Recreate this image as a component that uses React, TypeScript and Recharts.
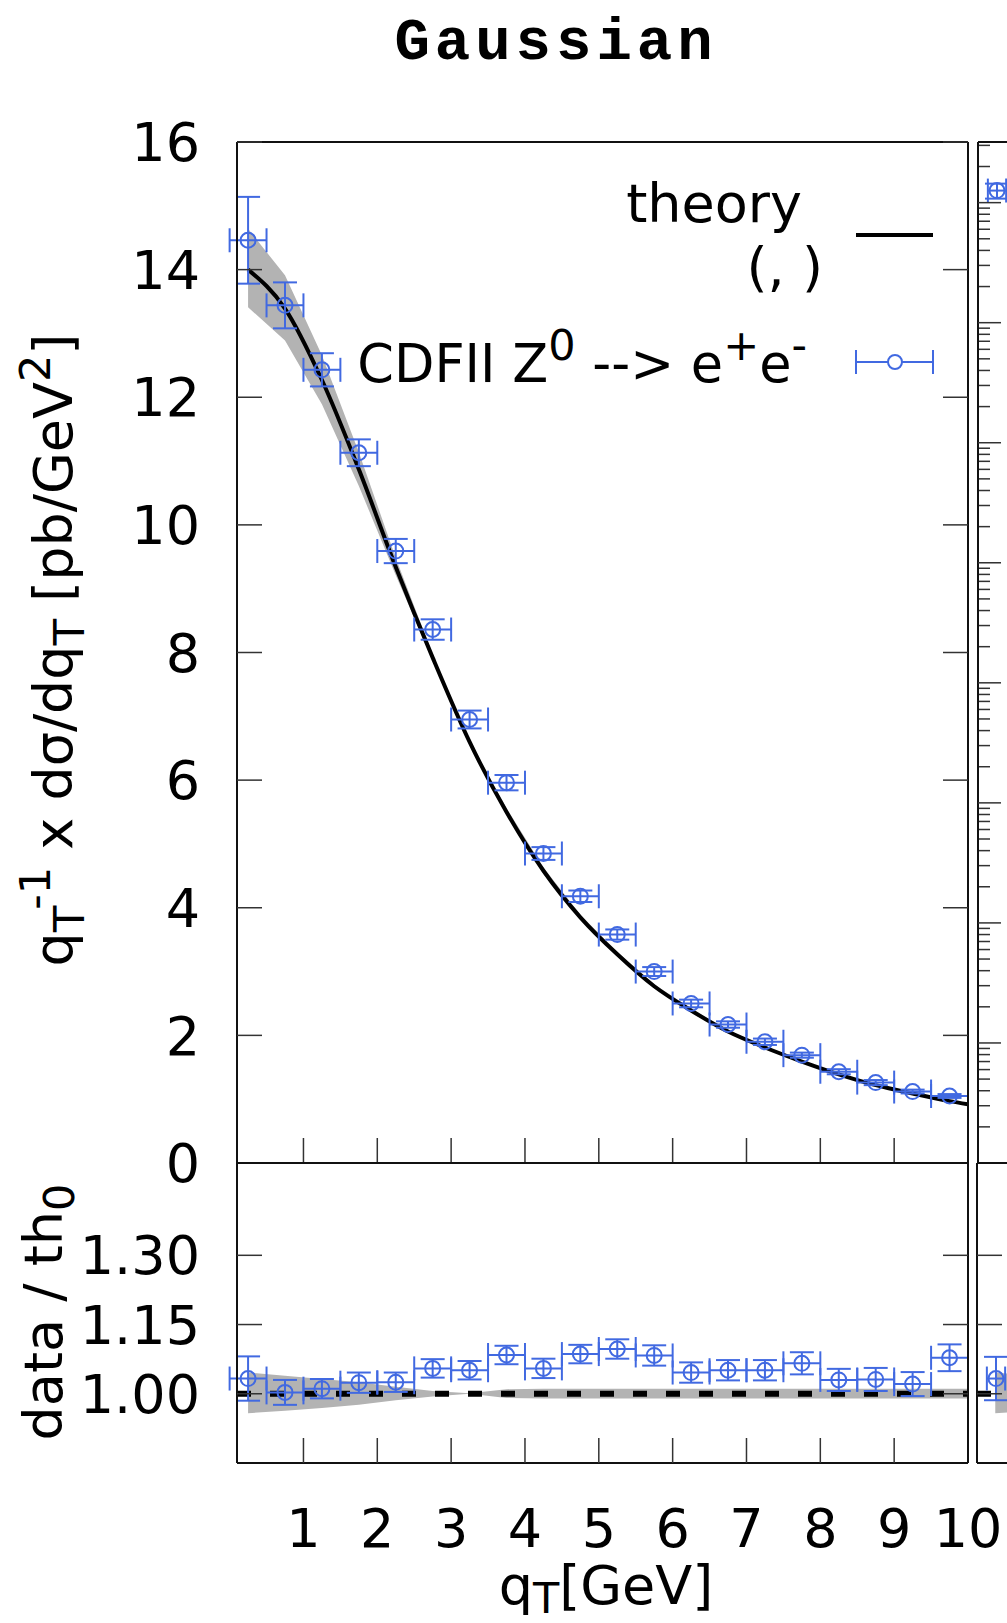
import React from "react";
import {
  Area,
  ComposedChart,
  ErrorBar,
  Line,
  ReferenceLine,
  Scatter,
  XAxis,
  YAxis,
} from "recharts";

const BLUE = "#4169e1";
const BAND = "#b3b3b3";
const FONT = "'DejaVu Sans', sans-serif";

// CDF II Z0 -> e+e-, qT bins [GeV]
const binCenters = [
  0.25, 0.75, 1.25, 1.75, 2.25, 2.75, 3.25, 3.75, 4.25, 4.75, 5.25, 5.75, 6.25,
  6.75, 7.25, 7.75, 8.25, 8.75, 9.25, 9.75,
];
const binHalfWidths = [
  0.25, 0.25, 0.25, 0.25, 0.25, 0.25, 0.25, 0.25, 0.25, 0.25, 0.25, 0.25, 0.25,
  0.25, 0.25, 0.25, 0.25, 0.25, 0.25, 0.25,
];
const cdfValues = [
  14.46, 13.44, 12.43, 11.13, 9.59, 8.36, 6.95, 5.96, 4.85, 4.18, 3.58, 3.0,
  2.5, 2.17, 1.9, 1.69, 1.43, 1.26, 1.12, 1.05,
];
const cdfErrors = [
  0.68, 0.36, 0.26, 0.21, 0.19, 0.16, 0.14, 0.12, 0.1, 0.09, 0.08, 0.07, 0.06,
  0.05, 0.05, 0.04, 0.04, 0.04, 0.03, 0.03,
];
const ratioValues = [
  1.033, 1.003, 1.011, 1.024, 1.025, 1.055, 1.051, 1.084, 1.055, 1.086, 1.097,
  1.083, 1.046, 1.051, 1.051, 1.066, 1.03, 1.031, 1.021, 1.078,
];
const ratioErrors = [
  0.048, 0.027, 0.021, 0.022, 0.021, 0.02, 0.02, 0.02, 0.021, 0.02, 0.021,
  0.022, 0.022, 0.022, 0.022, 0.024, 0.024, 0.025, 0.026, 0.029,
];

// theory curve and its uncertainty band
const theoryX = [
  0.25, 0.75, 1.25, 1.75, 2.25, 2.75, 3.25, 3.75, 4.25, 4.75, 5.25, 5.75, 6.25,
  6.75, 7.25, 7.75, 8.25, 8.75, 9.25, 9.75, 10,
];
const theoryValues = [
  14.0, 13.39, 12.27, 10.87, 9.34, 7.92, 6.6, 5.5, 4.58, 3.85, 3.27, 2.77, 2.39,
  2.06, 1.81, 1.59, 1.39, 1.22, 1.09, 0.97, 0.92,
];
const theoryLow = [
  13.41, 12.89, 11.89, 10.61, 9.21, 7.87, 6.6, 5.45, 4.53, 3.81, 3.24, 2.74,
  2.37, 2.04, 1.79, 1.57, 1.38, 1.21, 1.08, 0.96, 0.91,
];
const theoryHigh = [
  14.64, 13.91, 12.66, 11.14, 9.48, 7.97, 6.61, 5.56, 4.63, 3.89, 3.31, 2.8,
  2.42, 2.08, 1.83, 1.61, 1.41, 1.23, 1.1, 0.98, 0.93,
];
const ratioBandLow = [
  0.958, 0.963, 0.969, 0.976, 0.986, 0.994, 1.0, 0.991, 0.99, 0.99, 0.99, 0.99,
  0.99, 0.99, 0.99, 0.99, 0.99, 0.99, 0.99, 0.99, 0.99,
];
const ratioBandHigh = [
  1.046, 1.039, 1.032, 1.025, 1.015, 1.006, 1.001, 1.01, 1.011, 1.011, 1.011,
  1.011, 1.011, 1.011, 1.011, 1.011, 1.011, 1.011, 1.011, 1.011, 1.011,
];

// neighbouring panel (cut off at the right edge)
const sideX = [0.26];
const sideHalfWidths = [0.125];
const sideValues = [126];
const sideErrors = [18];
const sideRatios = [1.033];
const sideRatioErrors = [0.047];

const xTicks = [1, 2, 3, 4, 5, 6, 7, 8, 9, 10];
const mainYTicks = [0, 2, 4, 6, 8, 10, 12, 14, 16];
const ratioTicks = [1.0, 1.15, 1.3];
const logDecades = [1e-6, 1e-5, 1e-4, 1e-3, 1e-2, 1e-1, 1, 10, 100];
const logMantissas = [2, 3, 4, 5, 6, 7, 8, 9];

const mainSeries = binCenters.map((x, i) => ({
  x,
  y: cdfValues[i],
  ex: binHalfWidths[i],
  ey: cdfErrors[i],
}));
const ratioSeries = binCenters.map((x, i) => ({
  x,
  y: ratioValues[i],
  ex: binHalfWidths[i],
  ey: ratioErrors[i],
}));
const theorySeries = theoryX.map((x, i) => ({
  x,
  y: theoryValues[i],
  band: [theoryLow[i], theoryHigh[i]],
  ratioBand: [ratioBandLow[i], ratioBandHigh[i]],
}));
const sideSeries = sideX.map((x, i) => ({
  x,
  y: sideValues[i],
  ex: sideHalfWidths[i],
  ey: sideErrors[i],
}));
const sideRatioSeries = sideX.map((x, i) => ({
  x,
  y: sideRatios[i],
  ex: sideHalfWidths[i],
  ey: sideRatioErrors[i],
}));
const logMinorTicks = logDecades.flatMap((d) =>
  logMantissas.map((m) => m * d).filter((v) => v < 320)
);

const frameLine = { stroke: "#111", strokeWidth: 2 };
const tickLineStyle = { stroke: "#333", strokeWidth: 1.5 };
const tickText = { fontSize: 54, fill: "#000", fontFamily: FONT };

// tick marks without labels (tick={false} would drop the marks too)
const NoLabel = () => <g />;

function OpenCircle(props: any) {
  return (
    <circle
      cx={props.cx}
      cy={props.cy}
      r={7.5}
      fill="none"
      stroke={BLUE}
      strokeWidth={2}
    />
  );
}

const layer: React.CSSProperties = { position: "absolute", left: 0, top: 0 };

function MainPanel() {
  return (
    <div style={layer}>
      <ComposedChart
        width={1007}
        height={1200}
        margin={{ top: 141, right: 38, bottom: 36, left: 177 }}
      >
        <XAxis
          xAxisId="b"
          dataKey="x"
          type="number"
          domain={[0.1, 10]}
          allowDataOverflow
          ticks={xTicks}
          interval={0}
          tick={NoLabel}
          tickSize={-25}
          height={1}
          axisLine={frameLine}
          tickLine={tickLineStyle}
        />
        <XAxis
          xAxisId="t"
          orientation="top"
          type="number"
          domain={[0.1, 10]}
          allowDataOverflow
          ticks={xTicks}
          interval={0}
          tick={NoLabel}
          tickSize={-25}
          height={1}
          axisLine={frameLine}
          tickLine={tickLineStyle}
        />
        <YAxis
          yAxisId="l"
          type="number"
          domain={[0, 16]}
          allowDataOverflow
          ticks={mainYTicks}
          interval={0}
          tickSize={-25}
          tickMargin={62}
          width={60}
          tick={tickText}
          axisLine={frameLine}
          tickLine={tickLineStyle}
        />
        <YAxis
          yAxisId="r"
          orientation="right"
          type="number"
          domain={[0, 16]}
          allowDataOverflow
          ticks={mainYTicks}
          interval={0}
          tick={NoLabel}
          tickSize={-25}
          width={1}
          axisLine={frameLine}
          tickLine={tickLineStyle}
        />
        <Area
          xAxisId="b"
          yAxisId="l"
          data={theorySeries}
          dataKey="band"
          type="linear"
          stroke="none"
          fill={BAND}
          fillOpacity={1}
          isAnimationActive={false}
        />
        <Line
          xAxisId="b"
          yAxisId="l"
          data={theorySeries}
          dataKey="y"
          type="monotone"
          stroke="#000"
          strokeWidth={4}
          dot={false}
          isAnimationActive={false}
        />
        <Scatter
          xAxisId="b"
          yAxisId="l"
          data={mainSeries}
          dataKey="y"
          shape={OpenCircle}
          isAnimationActive={false}
        >
          <ErrorBar dataKey="ey" direction="y" width={12} stroke={BLUE} strokeWidth={2} />
          <ErrorBar dataKey="ex" direction="x" width={12} stroke={BLUE} strokeWidth={2} />
        </Scatter>
      </ComposedChart>
    </div>
  );
}

function RatioPanel() {
  return (
    <div style={layer}>
      <ComposedChart
        width={1007}
        height={1623}
        margin={{ top: 1162, right: 38, bottom: 0, left: 177 }}
      >
        <XAxis
          xAxisId="b"
          dataKey="x"
          type="number"
          domain={[0.1, 10]}
          allowDataOverflow
          ticks={xTicks}
          interval={0}
          tickSize={-25}
          tickMargin={71}
          height={160}
          tick={tickText}
          axisLine={frameLine}
          tickLine={tickLineStyle}
        />
        <XAxis
          xAxisId="t"
          orientation="top"
          type="number"
          domain={[0.1, 10]}
          allowDataOverflow
          ticks={xTicks}
          interval={0}
          tick={NoLabel}
          tickSize={-25}
          height={1}
          axisLine={frameLine}
          tickLine={tickLineStyle}
        />
        <YAxis
          yAxisId="l"
          type="number"
          domain={[0.85, 1.5]}
          allowDataOverflow
          ticks={ratioTicks}
          interval={0}
          tickFormatter={(v: number) => v.toFixed(2)}
          tickSize={-25}
          tickMargin={62}
          width={60}
          tick={tickText}
          axisLine={frameLine}
          tickLine={tickLineStyle}
        />
        <YAxis
          yAxisId="r"
          orientation="right"
          type="number"
          domain={[0.85, 1.5]}
          allowDataOverflow
          ticks={ratioTicks}
          interval={0}
          tick={NoLabel}
          tickSize={-25}
          width={1}
          axisLine={frameLine}
          tickLine={tickLineStyle}
        />
        <Area
          xAxisId="b"
          yAxisId="l"
          data={theorySeries}
          dataKey="ratioBand"
          type="linear"
          stroke="none"
          fill={BAND}
          fillOpacity={1}
          isAnimationActive={false}
        />
        <ReferenceLine
          xAxisId="b"
          yAxisId="l"
          y={1}
          stroke="#000"
          strokeWidth={6}
          strokeDasharray="14 19"
        />
        <Scatter
          xAxisId="b"
          yAxisId="l"
          data={ratioSeries}
          dataKey="y"
          shape={OpenCircle}
          isAnimationActive={false}
        >
          <ErrorBar dataKey="ey" direction="y" width={12} stroke={BLUE} strokeWidth={2} />
          <ErrorBar dataKey="ex" direction="x" width={12} stroke={BLUE} strokeWidth={2} />
        </Scatter>
      </ComposedChart>
    </div>
  );
}

function SidePanels() {
  return (
    <>
      <div style={layer}>
        <ComposedChart
          width={1800}
          height={1200}
          margin={{ top: 141, right: 91, bottom: 36, left: 976 }}
        >
          <XAxis
            xAxisId="b"
            dataKey="x"
            type="number"
            domain={[0, 10]}
            allowDataOverflow
            ticks={xTicks}
            interval={0}
            tick={NoLabel}
            tickSize={-25}
            height={1}
            axisLine={frameLine}
            tickLine={tickLineStyle}
          />
          <XAxis
            xAxisId="t"
            orientation="top"
            type="number"
            domain={[0, 10]}
            allowDataOverflow
            ticks={xTicks}
            interval={0}
            tick={NoLabel}
            tickSize={-25}
            height={1}
            axisLine={frameLine}
            tickLine={tickLineStyle}
          />
          <YAxis
            yAxisId="minor"
            type="number"
            scale="log"
            domain={[1e-6, 320]}
            allowDataOverflow
            ticks={logMinorTicks}
            interval={0}
            tick={NoLabel}
            tickSize={-13}
            width={1}
            axisLine={false}
            tickLine={tickLineStyle}
          />
          <YAxis
            yAxisId="major"
            type="number"
            scale="log"
            domain={[1e-6, 320]}
            allowDataOverflow
            ticks={logDecades}
            interval={0}
            tick={NoLabel}
            tickSize={-23}
            width={1}
            axisLine={frameLine}
            tickLine={tickLineStyle}
          />
          <Scatter
            xAxisId="b"
            yAxisId="major"
            data={sideSeries}
            dataKey="y"
            shape={OpenCircle}
            isAnimationActive={false}
          >
            <ErrorBar dataKey="ey" direction="y" width={12} stroke={BLUE} strokeWidth={2} />
            <ErrorBar dataKey="ex" direction="x" width={12} stroke={BLUE} strokeWidth={2} />
          </Scatter>
        </ComposedChart>
      </div>
      <div style={layer}>
        <ComposedChart
          width={1800}
          height={1623}
          margin={{ top: 1162, right: 92, bottom: 0, left: 976 }}
        >
          <XAxis
            xAxisId="b"
            dataKey="x"
            type="number"
            domain={[0, 10]}
            allowDataOverflow
            ticks={xTicks}
            interval={0}
            tick={NoLabel}
            tickSize={-25}
            height={160}
            axisLine={frameLine}
            tickLine={tickLineStyle}
          />
          <XAxis
            xAxisId="t"
            orientation="top"
            type="number"
            domain={[0, 10]}
            allowDataOverflow
            ticks={xTicks}
            interval={0}
            tick={NoLabel}
            tickSize={-25}
            height={1}
            axisLine={frameLine}
            tickLine={tickLineStyle}
          />
          <YAxis
            yAxisId="l"
            type="number"
            domain={[0.85, 1.5]}
            allowDataOverflow
            ticks={ratioTicks}
            interval={0}
            tick={NoLabel}
            tickSize={-25}
            width={1}
            axisLine={frameLine}
            tickLine={tickLineStyle}
          />
          <Area
            xAxisId="b"
            yAxisId="l"
            data={theorySeries}
            dataKey="ratioBand"
            type="linear"
            stroke="none"
            fill={BAND}
            fillOpacity={1}
            isAnimationActive={false}
          />
          <ReferenceLine
            xAxisId="b"
            yAxisId="l"
            y={1}
            stroke="#000"
            strokeWidth={6}
            strokeDasharray="14 19"
          />
          <Scatter
            xAxisId="b"
            yAxisId="l"
            data={sideRatioSeries}
            dataKey="y"
            shape={OpenCircle}
            isAnimationActive={false}
          >
            <ErrorBar dataKey="ey" direction="y" width={12} stroke={BLUE} strokeWidth={2} />
            <ErrorBar dataKey="ex" direction="x" width={12} stroke={BLUE} strokeWidth={2} />
          </Scatter>
        </ComposedChart>
      </div>
    </>
  );
}

function Labels() {
  const sub = 12;
  const sup = 22;
  const small = 43;
  return (
    <svg
      width={1007}
      height={1623}
      style={{ ...layer, pointerEvents: "none" }}
      fontFamily={FONT}
    >
      <text
        x={556}
        y={59}
        textAnchor="middle"
        fontFamily="'Liberation Mono', monospace"
        fontWeight="bold"
        fontSize={59}
        letterSpacing={5}
      >
        Gaussian
      </text>

      <text transform="translate(72,650) rotate(-90)" textAnchor="middle" fontSize={54}>
        q
        <tspan dy={sub} fontSize={small}>T</tspan>
        <tspan dy={-sub - sup} fontSize={small}>-1</tspan>
        <tspan dy={sup}> x dσ/dq</tspan>
        <tspan dy={sub} fontSize={small}>T</tspan>
        <tspan dy={-sub}> [pb/GeV</tspan>
        <tspan dy={-sup} fontSize={small}>2</tspan>
        <tspan dy={sup}>]</tspan>
      </text>

      <text transform="translate(62,1312) rotate(-90)" textAnchor="middle" fontSize={54}>
        data / th
        <tspan dy={sub} fontSize={small}>0</tspan>
      </text>

      <text x={606} y={1604} textAnchor="middle" fontSize={54}>
        q
        <tspan dy={9} fontSize={small}>T</tspan>
        <tspan dy={-9}>[GeV]</tspan>
      </text>

      <text x={802} y={222} textAnchor="end" fontSize={54}>
        theory
      </text>
      <text x={823} y={286} textAnchor="end" fontSize={54}>
        (, )
      </text>
      <line x1={856} y1={235} x2={933} y2={235} stroke="#000" strokeWidth={4} />

      <text x={807} y={382} textAnchor="end" fontSize={52.5}>
        CDFII Z
        <tspan dy={-sup} fontSize={small}>0</tspan>
        <tspan dy={sup}> --&gt; e</tspan>
        <tspan dy={-sup} fontSize={small}>+</tspan>
        <tspan dy={sup}>e</tspan>
        <tspan dy={-sup} fontSize={small}>-</tspan>
      </text>
      <g stroke={BLUE} strokeWidth={2} fill="none">
        <line x1={856} y1={362} x2={933} y2={362} />
        <line x1={856} y1={350} x2={856} y2={374} />
        <line x1={933} y1={350} x2={933} y2={374} />
        <circle cx={895} cy={362} r={7} fill="#fff" />
      </g>
    </svg>
  );
}

export default function App() {
  return (
    <div
      style={{
        position: "absolute",
        left: 0,
        top: 0,
        width: 1007,
        height: 1623,
        overflow: "hidden",
        background: "#fff",
      }}
    >
      <SidePanels />
      <MainPanel />
      <RatioPanel />
      <Labels />
    </div>
  );
}
